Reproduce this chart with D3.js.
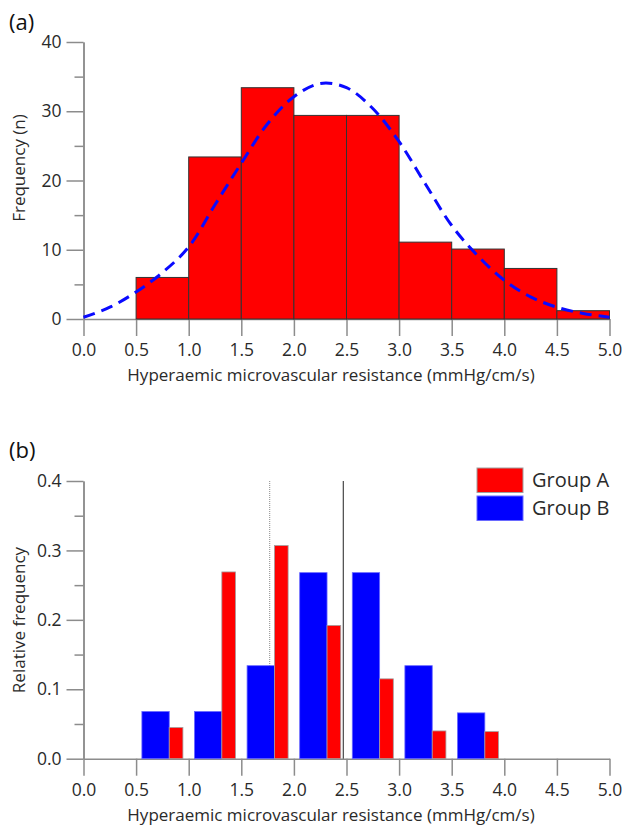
<!DOCTYPE html>
<html>
<head>
<meta charset="utf-8">
<title>Hyperaemic microvascular resistance</title>
<script src="https://d3js.org/d3.v7.min.js"></script>
<style>
  body { margin: 0; background: #fff; }
  svg { display: block; font-family: "Open Sans", sans-serif; }
  .axis path, .axis line { stroke: #8c8c8c; stroke-width: 1.5; }
  .axis text { font-family: "Open Sans", sans-serif; font-size: 17.5px; fill: #2a2a2a; }
  .title { font-size: 17px; fill: #2a2a2a; }
  .panel { font-size: 22px; fill: #111; }
  .legend text { font-size: 20px; fill: #2a2a2a; }
</style>
</head>
<body>
<svg width="623" height="825"></svg>
<script>
// (a) histogram of all patients
const binStarts = [0.5, 1.0, 1.5, 2.0, 2.5, 3.0, 3.5, 4.0, 4.5];
const binWidth = 0.5;
const frequency = [6.0, 23.4, 33.4, 29.4, 29.4, 11.1, 10.1, 7.3, 1.2];

// (a) fitted distribution
const fitX = [0, 0.25, 0.5, 0.75, 1.0, 1.25, 1.5, 1.75, 2.0, 2.25, 2.5, 2.75, 3.0, 3.25, 3.5, 3.75, 4.0, 4.25, 4.5, 4.75, 5.0];
const fitY = [0.25, 1.7, 3.9, 6.7, 10.4, 16.5, 22.5, 28.2, 32.1, 34.0, 33.4, 30.4, 25.6, 19.5, 13.5, 9.1, 5.6, 3.2, 1.7, 0.8, 0.25];

// (b) relative frequency by group
const binCentres = [0.75, 1.25, 1.75, 2.25, 2.75, 3.25, 3.75];
const groupA = [0.045, 0.269, 0.307, 0.192, 0.115, 0.040, 0.039];
const groupB = [0.068, 0.068, 0.134, 0.268, 0.268, 0.134, 0.066];
const refDotted = 1.77;
const refSolid = 2.47;

// ticks
const xTicks = [0, 0.5, 1.0, 1.5, 2.0, 2.5, 3.0, 3.5, 4.0, 4.5, 5.0];
const freqTicks = [0, 10, 20, 30, 40];
const freqMinor = [5, 15, 25, 35];
const relTicks = [0, 0.1, 0.2, 0.3, 0.4];
const relMinor = [0.05, 0.15, 0.25, 0.35];

const svg = d3.select("svg");
const left = 83.5, right = 609.5;
const xTitle = "Hyperaemic microvascular resistance (mmHg/cm/s)";

function drawAxes(g, x, y, top, bottom, majors, minors, yFmt, yTitle, titleY) {
    g.append("g")
        .attr("class", "axis")
        .attr("transform", `translate(0,${bottom})`)
        .call(d3.axisBottom(x).tickValues(xTicks).tickFormat(d3.format(".1f"))
            .tickSize(17).tickSizeOuter(0).tickPadding(8));
    g.append("g")
        .attr("class", "axis")
        .attr("transform", `translate(${left},0)`)
        .call(d3.axisLeft(y).tickValues(minors).tickFormat("").tickSize(9).tickSizeOuter(0));
    g.append("g")
        .attr("class", "axis")
        .attr("transform", `translate(${left},0)`)
        .call(d3.axisLeft(y).tickValues(majors).tickFormat(yFmt)
            .tickSize(17).tickSizeOuter(0).tickPadding(5));
    g.append("text")
        .attr("class", "title")
        .attr("x", 331).attr("y", bottom + 62)
        .attr("text-anchor", "middle")
        .text(xTitle);
    g.append("text")
        .attr("class", "title")
        .attr("transform", `translate(25,${titleY}) rotate(-90)`)
        .attr("text-anchor", "middle")
        .text(yTitle);
}

// ---------- panel (a) ----------
const topA = 42, bottomA = 319;
const xA = d3.scaleLinear().domain([0, 5]).range([left, right]);
const yA = d3.scaleLinear().domain([0, 40]).range([bottomA, topA]);
const gA = svg.append("g");

drawAxes(gA, xA, yA, topA, bottomA, freqTicks, freqMinor, d3.format("d"), "Frequency (n)", 168);

gA.selectAll(".bar")
    .data(binStarts)
    .enter()
    .append("rect")
    .attr("x", d => xA(d))
    .attr("y", (d, i) => yA(frequency[i]))
    .attr("width", d => xA(d + binWidth) - xA(d))
    .attr("height", (d, i) => yA(0) - yA(frequency[i]))
    .attr("fill", "#ff0000")
    .attr("stroke", "#333")
    .attr("stroke-width", 1);

const fitLine = d3.line()
    .x((d, i) => xA(fitX[i]))
    .y(d => yA(d))
    .curve(d3.curveCatmullRom);

gA.append("path")
    .attr("d", fitLine(fitY))
    .attr("fill", "none")
    .attr("stroke", "#0a0aff")
    .attr("stroke-width", 3)
    .attr("stroke-dasharray", "12,7");

gA.append("text").attr("class", "panel").attr("x", 9).attr("y", 30).text("(a)");

// ---------- panel (b) ----------
const topB = 481, bottomB = 758.7;
const xB = d3.scaleLinear().domain([0, 5]).range([left, right]);
const yB = d3.scaleLinear().domain([0, 0.4]).range([bottomB, topB]);
const gB = svg.append("g");

drawAxes(gB, xB, yB, topB, bottomB, relTicks, relMinor, d3.format(".1f"), "Relative frequency", 620);

gB.append("line")
    .attr("x1", xB(refDotted)).attr("x2", xB(refDotted))
    .attr("y1", yB(0.4)).attr("y2", yB(0))
    .attr("stroke", "#888").attr("stroke-width", 1)
    .attr("stroke-dasharray", "1,1");
gB.append("line")
    .attr("x1", xB(refSolid)).attr("x2", xB(refSolid))
    .attr("y1", yB(0.4)).attr("y2", yB(0))
    .attr("stroke", "#555").attr("stroke-width", 1.3);

gB.selectAll(".barB")
    .data(binCentres)
    .enter()
    .append("rect")
    .attr("x", d => xB(d - 0.195))
    .attr("y", (d, i) => yB(groupB[i]))
    .attr("width", d => xB(d + 0.065) - xB(d - 0.195))
    .attr("height", (d, i) => yB(0) - yB(groupB[i]))
    .attr("fill", "#0000ff")
    .attr("stroke", "#6a6aff")
    .attr("stroke-width", 0.8);

gB.selectAll(".barA")
    .data(binCentres)
    .enter()
    .append("rect")
    .attr("x", d => xB(d + 0.065))
    .attr("y", (d, i) => yB(groupA[i]))
    .attr("width", d => xB(d + 0.195) - xB(d + 0.065))
    .attr("height", (d, i) => yB(0) - yB(groupA[i]))
    .attr("fill", "#ff0000")
    .attr("stroke", "#a0a0a0")
    .attr("stroke-width", 0.8);

// legend
const legend = gB.append("g").attr("class", "legend");
const legendItems = [
    { name: "Group A", fill: "#ff0000", stroke: "#a0a0a0" },
    { name: "Group B", fill: "#0000ff", stroke: "#6a6aff" }
];
legendItems.forEach((d, i) => {
    legend.append("rect")
        .attr("x", 477).attr("y", 468 + i * 28)
        .attr("width", 46).attr("height", 24.5)
        .attr("fill", d.fill).attr("stroke", d.stroke).attr("stroke-width", 1);
    legend.append("text")
        .attr("x", 532).attr("y", 487 + i * 28)
        .text(d.name);
});

gB.append("text").attr("class", "panel").attr("x", 9).attr("y", 458).text("(b)");
</script>
</body>
</html>
